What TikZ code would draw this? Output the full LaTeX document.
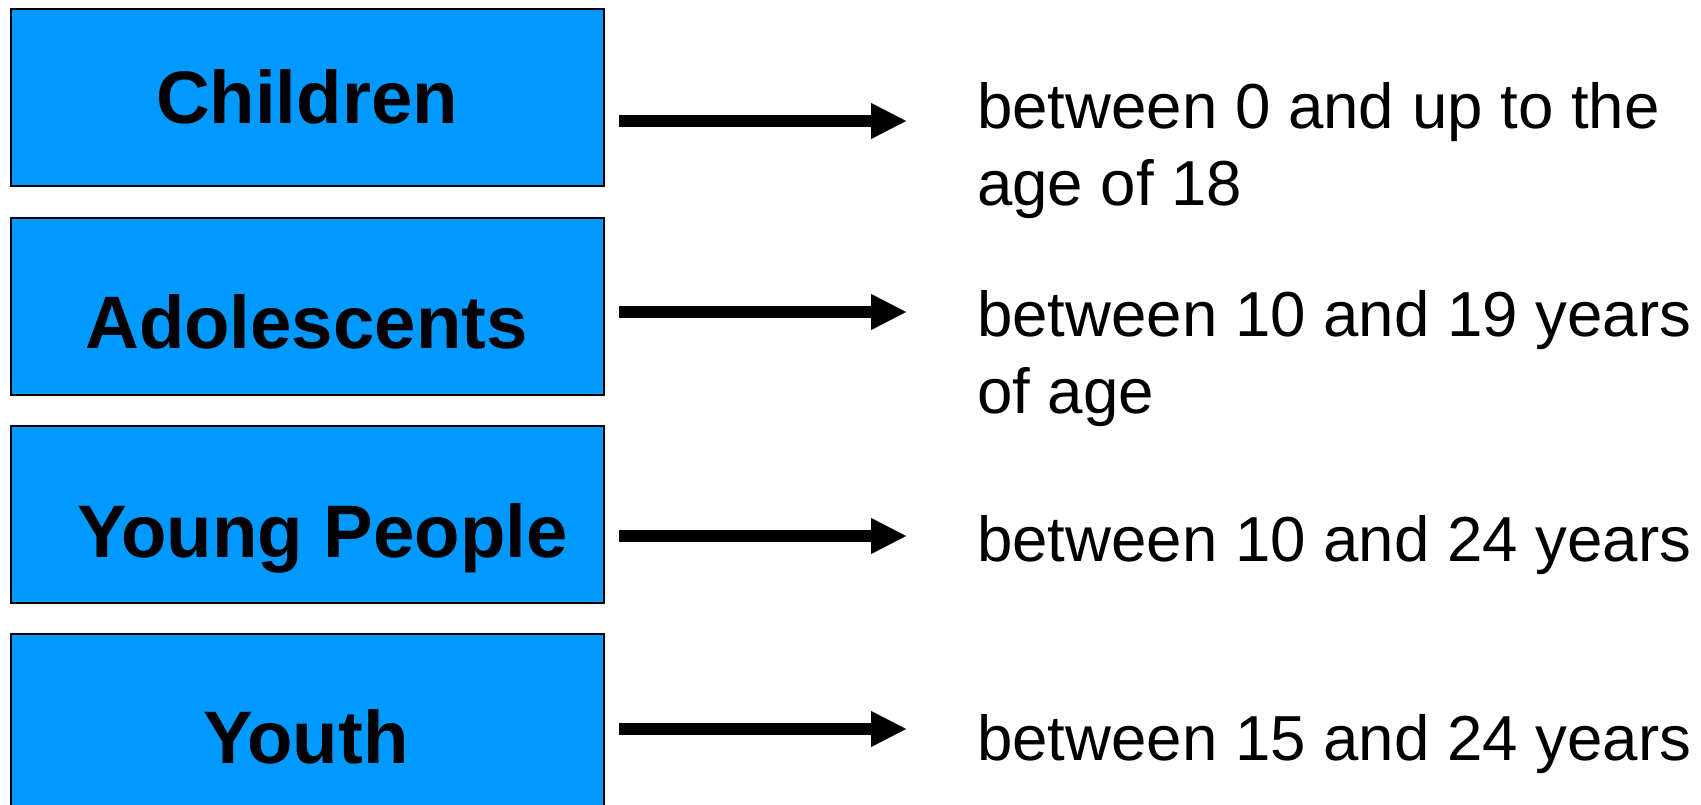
\documentclass[tikz,border=0pt]{standalone}
\usepackage{fontspec}
\setmainfont{Liberation Sans}
\usetikzlibrary{arrows.meta}
\definecolor{boxblue}{RGB}{0,153,255}
\begin{document}
\begin{tikzpicture}[x=1pt,y=-1pt,
  agebox/.style={draw=black,line width=2pt,fill=boxblue,minimum width=593pt,minimum height=177pt,inner sep=0pt,anchor=north west},
  boxlabel/.style={font=\bfseries\fontsize{74.4pt}{88pt}\selectfont,anchor=base,inner sep=0pt},
  desc/.style={font=\fontsize{63.6pt}{77pt}\selectfont,anchor=base west,align=left,inner sep=0pt},
  thickarrow/.style={line width=12pt,-{Triangle[length=35pt,width=36pt,line width=0.1pt]}}]
\useasboundingbox[fill=white] (0,0) rectangle (1701,805);
% boxes
\node[agebox] (b1) at (10,8) {};
\node[agebox] (b2) at (10,217) {};
\node[agebox] (b3) at (10,425) {};
\node[agebox] (b4) at (10,633) {};
% box labels
\node[boxlabel] (t1) at (307,124) {Children};
\node[boxlabel] (t2) at (306.5,348) {Adolescents};
\node[boxlabel] (t3) at (322.5,557) {Young People};
\node[boxlabel] (t4) at (306,763) {Youth};
% descriptions (base anchor = baseline of the last line)
\node[desc] (d1) at (977,206) {between 0 and up to the\\age of 18};
\node[desc] (d2) at (977,413) {between 10 and 19 years\\of age};
\node[desc] (d3) at (977,561) {between 10 and 24 years};
\node[desc] (d4) at (977,760) {between 15 and 24 years};
% arrows
\coordinate (s1) at (619,121); \coordinate (e1) at (906,121);
\coordinate (s2) at (619,312); \coordinate (e2) at (906,312);
\coordinate (s3) at (619,536); \coordinate (e3) at (906,536);
\coordinate (s4) at (619,729); \coordinate (e4) at (906,729);
\draw[thickarrow] (s1) -- (e1);
\draw[thickarrow] (s2) -- (e2);
\draw[thickarrow] (s3) -- (e3);
\draw[thickarrow] (s4) -- (e4);
\end{tikzpicture}
\end{document}
